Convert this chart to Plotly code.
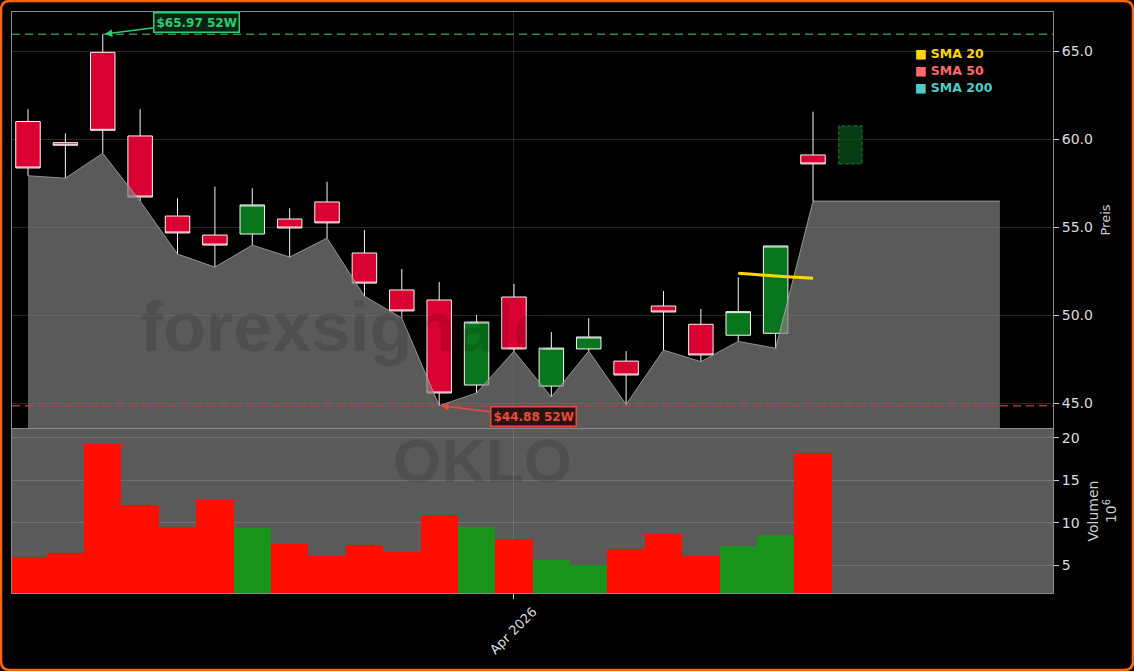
import plotly.graph_objects as go
import pandas as pd

# ---------------- data ----------------
dates = ["2026-03-13", "2026-03-16", "2026-03-17", "2026-03-18", "2026-03-19", "2026-03-20",
         "2026-03-23", "2026-03-24", "2026-03-25", "2026-03-26", "2026-03-27",
         "2026-03-30", "2026-03-31", "2026-04-01", "2026-04-02", "2026-04-03",
         "2026-04-06", "2026-04-07", "2026-04-08", "2026-04-09", "2026-04-10", "2026-04-13"]
opens = [61.02, 59.82, 64.95, 60.20, 55.65, 54.57, 54.63, 55.48, 56.45, 53.55, 51.45,
         50.88, 46.05, 51.05, 45.99, 48.10, 47.41, 50.54, 49.50, 48.88, 48.99, 59.12]
highs = [61.72, 60.35, 65.97, 61.72, 56.66, 57.32, 57.23, 56.09, 57.60, 54.86, 52.64,
         51.90, 50.03, 51.80, 49.06, 49.85, 47.98, 51.39, 50.37, 52.17, 53.95, 61.58]
lows = [57.94, 57.80, 59.22, 56.50, 53.49, 52.75, 54.00, 53.32, 54.40, 51.10, 49.86,
        44.88, 45.60, 47.98, 45.37, 47.98, 44.95, 48.04, 47.38, 48.53, 48.14, 56.50]
closes = [58.38, 59.67, 60.52, 56.73, 54.69, 54.00, 56.28, 54.97, 55.26, 51.84, 50.26,
          45.60, 49.63, 48.10, 48.15, 48.78, 46.62, 50.20, 47.76, 50.22, 53.95, 58.61]
volume_m = [5.99, 6.39, 19.29, 12.09, 9.49, 12.68, 9.34, 7.49, 6.07, 7.37, 6.54,
            10.91, 9.49, 8.08, 5.60, 5.00, 6.90, 8.67, 6.07, 7.25, 8.55, 18.23]
sma20_dates = ["2026-04-09", "2026-04-10", "2026-04-13"]
sma20_vals = [52.40, 52.24, 52.12]
band_ext_dates = ["2026-04-14", "2026-04-15", "2026-04-16", "2026-04-17", "2026-04-20"]
proj_date = "2026-04-14"
proj_low, proj_high = 58.61, 60.77
high_52w, low_52w = 65.97, 44.88
legend_items = [("SMA 20", "#FFD700"), ("SMA 50", "#FF6B6B"), ("SMA 200", "#4ECDC4")]
x_range = ["2026-03-12 13:44", "2026-04-21 10:05"]
y_range = [43.61, 67.24]
v_range = [1.7, 21.06]

# ---------------- helpers ----------------
W, H = 1134, 671
ML, MR, MT, MB = 12, 81, 12, 78
PW, PH = W - ML - MR, H - MT - MB
def px_x(px):
    return (px - ML) / PW
def px_y(py):
    return (H - MB - py) / PH

UP_C, DN_C = "#0a7a1e", "#e00034"
up = [c >= o for o, c in zip(opens, closes)]
vol_colors = ["#1a941a" if u else "#ff0d00" for u in up]

# break Fri 12:00 -> Sun 12:00 so daily bars stay contiguous
all_days = pd.date_range("2026-03-06", "2026-04-24", freq="D")
fridays = [d + pd.Timedelta(hours=12) for d in all_days if d.weekday() == 4]
rb_vals = [d.strftime("%Y-%m-%d %H:%M") for d in fridays]

fig = go.Figure()

# grey band under the lows (extended with last low)
band_x = list(dates) + band_ext_dates
band_y = list(lows) + [lows[-1]] * len(band_ext_dates)
fig.add_trace(go.Scatter(x=band_x, y=band_y, mode="lines", fill="tozeroy",
                         fillcolor="rgba(128,128,128,0.70)",
                         line=dict(color="rgba(170,170,170,0.8)", width=1),
                         xaxis="x", yaxis="y", hoverinfo="skip", showlegend=False))

fig.add_trace(go.Candlestick(x=dates, open=opens, high=highs, low=lows, close=closes,
                             increasing=dict(fillcolor=UP_C, line=dict(color="white", width=1)),
                             decreasing=dict(fillcolor=DN_C, line=dict(color="white", width=1)),
                             whiskerwidth=0, opacity=0.97,
                             xaxis="x", yaxis="y", showlegend=False))

fig.add_trace(go.Scatter(x=sma20_dates, y=sma20_vals, mode="lines",
                         line=dict(color="#FFD700", width=3, shape="spline"),
                         xaxis="x", yaxis="y", showlegend=False))

fig.add_trace(go.Bar(x=dates, y=volume_m, marker=dict(color=vol_colors, line=dict(width=0)),
                     width=86400000, xaxis="x2", yaxis="y2", showlegend=False))

shapes = []
# volume panel grey background
shapes.append(dict(type="rect", xref="x2 domain", yref="y2 domain", x0=0, x1=1, y0=0, y1=1,
                   fillcolor="#5a5a5a", line=dict(width=0), layer="below"))
# 52w lines
shapes.append(dict(type="line", xref="paper", yref="y", x0=0, x1=1, y0=high_52w, y1=high_52w,
                   line=dict(color="rgba(60,160,90,0.85)", width=1.5, dash="8px,5px")))
shapes.append(dict(type="line", xref="paper", yref="y", x0=0, x1=1, y0=low_52w, y1=low_52w,
                   line=dict(color="rgba(200,60,60,0.85)", width=1.5, dash="8px,5px")))
# projected candle box
pd0 = pd.Timestamp(proj_date)
shapes.append(dict(type="rect", xref="x", yref="y",
                   x0=(pd0 - pd.Timedelta(hours=7.5)).strftime("%Y-%m-%d %H:%M"),
                   x1=(pd0 + pd.Timedelta(hours=7.5)).strftime("%Y-%m-%d %H:%M"),
                   y0=proj_low, y1=proj_high, fillcolor="rgba(10,80,25,0.75)",
                   line=dict(color="#1f7a30", width=1, dash="4px,2px")))
# orange rounded frame
l, r, t, b, rad = 1, 1133, 1, 670, 9
xl, xr = px_x(l), px_x(r)
yt, yb = px_y(t), px_y(b)
rx, ry = rad / PW, rad / PH
path = (f"M {xl+rx},{yt} L {xr-rx},{yt} Q {xr},{yt} {xr},{yt-ry} L {xr},{yb+ry} "
        f"Q {xr},{yb} {xr-rx},{yb} L {xl+rx},{yb} Q {xl},{yb} {xl},{yb+ry} "
        f"L {xl},{yt-ry} Q {xl},{yt} {xl+rx},{yt} Z")
shapes.append(dict(type="path", xref="paper", yref="paper", path=path,
                   line=dict(color="#ff6410", width=2.5)))

annotations = []
# watermark
annotations.append(dict(text="<b>forexsignale</b>", xref="paper", yref="paper",
                        x=px_x(138), y=px_y(327), xanchor="left", yanchor="middle",
                        showarrow=False,
                        font=dict(family="Liberation Sans", size=70, color="rgba(0,0,0,0.12)")))
annotations.append(dict(text="<b>OKLO</b>", xref="paper", yref="paper",
                        x=px_x(482), y=px_y(460), xanchor="center", yanchor="middle",
                        showarrow=False,
                        font=dict(family="Liberation Sans", size=62, color="rgba(0,0,0,0.12)")))
# 52w labels
hi_idx = highs.index(high_52w)
lo_idx = lows.index(low_52w)
annotations.append(dict(text=f"<b>${high_52w:.2f} 52W</b>", x=dates[hi_idx], y=high_52w,
                        xref="x", yref="y", ax=94, ay=-12, showarrow=True,
                        arrowhead=2, arrowsize=1, arrowwidth=1.5, arrowcolor="#2ecc71",
                        font=dict(size=12, color="#2ecc71"), bgcolor="rgba(8,40,20,0.9)",
                        bordercolor="#2ecc71", borderwidth=1.5, borderpad=2, standoff=2))
annotations.append(dict(text=f"<b>${low_52w:.2f} 52W</b>", x=dates[lo_idx], y=low_52w,
                        xref="x", yref="y", ax=94, ay=11, showarrow=True,
                        arrowhead=2, arrowsize=1, arrowwidth=1.5, arrowcolor="#e74c3c",
                        font=dict(size=12, color="#e74c3c"), bgcolor="rgba(35,12,12,0.9)",
                        bordercolor="#e74c3c", borderwidth=1.5, borderpad=2, standoff=2))
# legend-like labels
for i, (name, col) in enumerate(legend_items):
    annotations.append(dict(text=f"■ <b>{name}</b>", xref="paper", yref="paper",
                            x=px_x(913), y=px_y(53.5 + i * 16.8), xanchor="left", yanchor="middle",
                            showarrow=False, font=dict(size=12.5, color=col)))

grid = "rgba(255,255,255,0.15)"
axis_common = dict(showline=True, mirror=True, linecolor="#8a8a8a", linewidth=1,
                   gridcolor=grid, zeroline=False)

fig.update_layout(
    width=W, height=H,
    margin=dict(l=ML, r=MR, t=MT, b=MB),
    paper_bgcolor="black", plot_bgcolor="black",
    font=dict(family="DejaVu Sans", color="#dddddd", size=13),
    showlegend=False, boxgap=0.345, boxgroupgap=0, bargap=0,
    xaxis=dict(domain=[0, 1], anchor="y", type="date", range=x_range,
               rangebreaks=[dict(values=rb_vals, dvalue=2 * 86400000)],
               rangeslider=dict(visible=False), showticklabels=False, ticks="",
               dtick="M1", tick0="2026-01-01", matches="x2", **axis_common),
    yaxis=dict(domain=[px_y(428), 1], anchor="x", side="right", range=y_range,
               dtick=5, tickformat=".1f", ticks="outside", ticklen=5, tickcolor="#cccccc",
               tickfont=dict(size=14), title=dict(text="Preis", standoff=8, font=dict(size=13, color="#cccccc")),
               **axis_common),
    xaxis2=dict(domain=[0, 1], anchor="y2", type="date", range=x_range,
                rangebreaks=[dict(values=rb_vals, dvalue=2 * 86400000)],
                dtick="M1", tick0="2026-01-01", tickformat="%b %Y", tickangle=-45,
                ticklabelshift=19,
                ticks="outside", ticklen=5, tickcolor="#cccccc", tickfont=dict(size=13),
                **axis_common),
    yaxis2=dict(domain=[0, px_y(429)], anchor="x2", side="right", range=v_range,
                dtick=5, ticks="outside", ticklen=5, tickcolor="#cccccc", tickfont=dict(size=14),
                title=dict(text="Volumen<br>10<sup>6</sup>", standoff=9, font=dict(size=14, color="#cccccc")),
                **axis_common),
    shapes=shapes, annotations=annotations,
)

fig.write_html("out.html", config={"displayModeBar": False},
               post_script="document.body.style.margin='0';document.body.style.overflow='hidden';"
                           "document.body.style.background='black';")
